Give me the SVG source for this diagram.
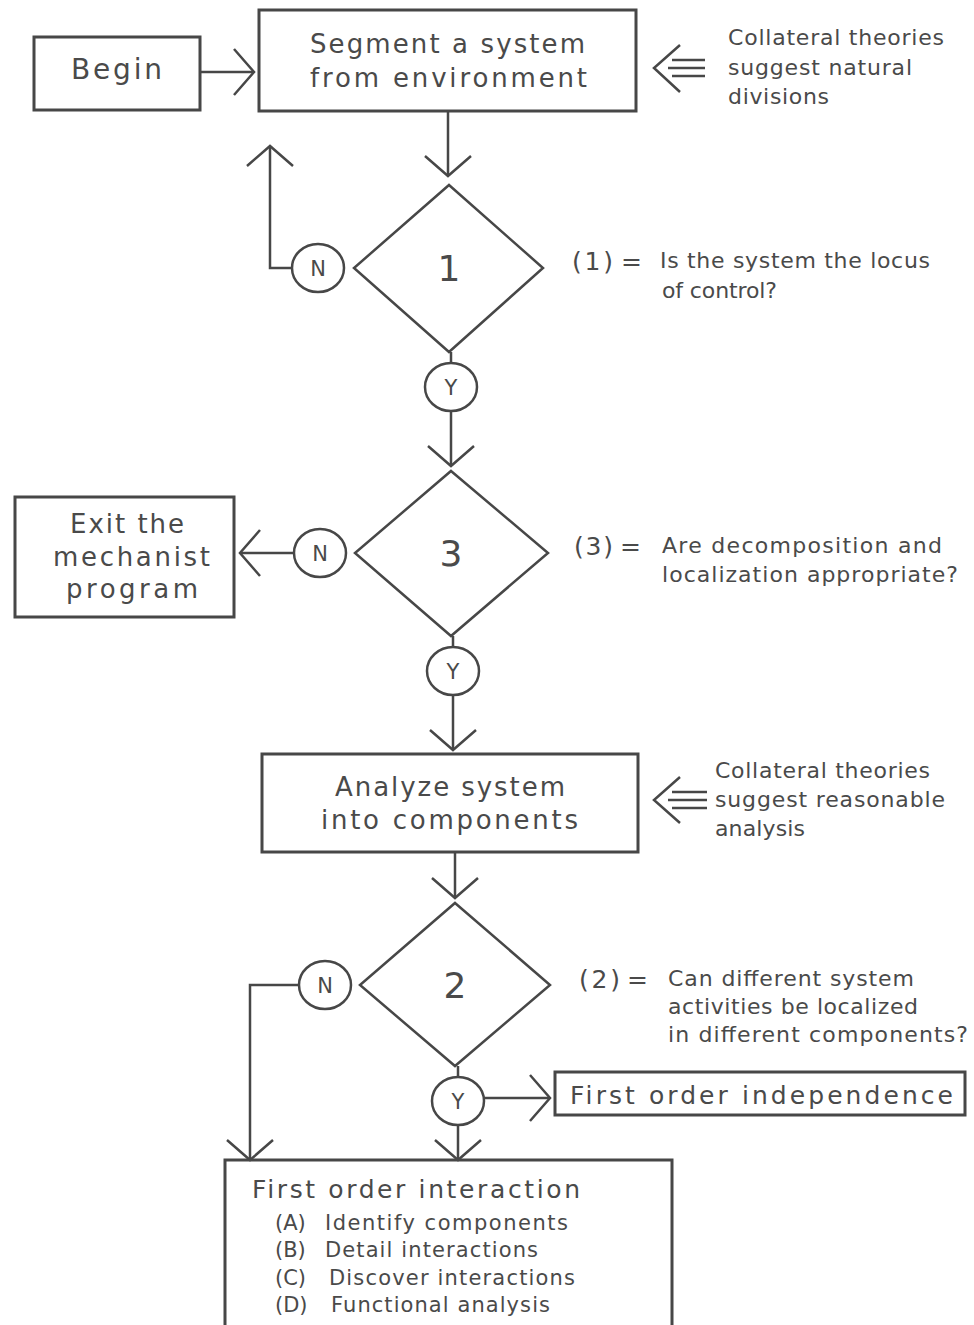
<svg xmlns="http://www.w3.org/2000/svg" width="974" height="1325" viewBox="0 0 974 1325">
<defs>
<style>
.box{fill:none;stroke:#474747;stroke-width:3}
.shape{fill:none;stroke:#474747;stroke-width:2.5}
.ln{fill:none;stroke:#474747;stroke-width:2.5}
.t{font-family:"DejaVu Sans","Open Sans",sans-serif;fill:#4a4a4a}
.big{font-size:26px}
.num{font-size:36px}
.yn{font-size:21px}
.side{font-size:22px}
.eq{font-size:25px}
.item{font-size:21px}
</style>
<marker id="ah" markerUnits="userSpaceOnUse" viewBox="-24 -28 28 56" markerWidth="28" markerHeight="56" refX="0" refY="0" orient="auto" overflow="visible">
<path d="M-20,-23 L0,0 L-20,23" fill="none" stroke="#474747" stroke-width="2.5"/>
</marker>
</defs>
<rect width="974" height="1325" fill="#ffffff"/>

<g id="connectors">
<line class="ln" x1="200" y1="72" x2="254" y2="72" marker-end="url(#ah)"/>
<line class="ln" x1="448" y1="111" x2="448" y2="176" marker-end="url(#ah)"/>
<polyline class="ln" points="292,268 270,268 270,146" marker-end="url(#ah)"/>
<line class="ln" x1="451" y1="352" x2="451" y2="363"/>
<line class="ln" x1="451" y1="411" x2="451" y2="466" marker-end="url(#ah)"/>
<line class="ln" x1="294" y1="553" x2="240" y2="553" marker-end="url(#ah)"/>
<line class="ln" x1="453" y1="636" x2="453" y2="647"/>
<line class="ln" x1="453" y1="695" x2="453" y2="750" marker-end="url(#ah)"/>
<line class="ln" x1="455" y1="852" x2="455" y2="898" marker-end="url(#ah)"/>
<polyline class="ln" points="299,985 250,985 250,1160" marker-end="url(#ah)"/>
<line class="ln" x1="458" y1="1066" x2="458" y2="1077"/>
<line class="ln" x1="458" y1="1125" x2="458" y2="1160" marker-end="url(#ah)"/>
<line class="ln" x1="484" y1="1098" x2="550" y2="1098" marker-end="url(#ah)"/>
<g id="collateral-arrow-1">
<polyline class="ln" points="680,45 654,68 680,92"/>
<line class="ln" x1="672" y1="60" x2="705" y2="60"/>
<line class="ln" x1="668" y1="68" x2="705" y2="68"/>
<line class="ln" x1="672" y1="76" x2="705" y2="76"/>
</g>
<g id="collateral-arrow-2">
<polyline class="ln" points="680,777 654,800 680,823"/>
<line class="ln" x1="672" y1="792" x2="707" y2="792"/>
<line class="ln" x1="668" y1="800" x2="707" y2="800"/>
<line class="ln" x1="672" y1="808" x2="707" y2="808"/>
</g>
</g>

<g id="begin">
<rect class="box" x="34" y="37" width="166" height="73"/>
<text class="t" x="71" y="79" font-size="28" textLength="91" lengthAdjust="spacing">Begin</text>
</g>

<g id="segment">
<rect class="box" x="259" y="10" width="377" height="101"/>
<text class="t big" x="310" y="53" textLength="275" lengthAdjust="spacing">Segment a system</text>
<text class="t big" x="310" y="87" textLength="277" lengthAdjust="spacing">from environment</text>
</g>

<g id="note-natural">
<text class="t side" x="728" y="45" textLength="216" lengthAdjust="spacing">Collateral theories</text>
<text class="t side" x="728" y="75" textLength="184" lengthAdjust="spacing">suggest natural</text>
<text class="t side" x="728" y="104" textLength="101" lengthAdjust="spacing">divisions</text>
</g>

<g id="decision-1">
<polygon class="shape" points="449,185 543,268 449,352 354,268"/>
<text class="t num" x="449" y="281" text-anchor="middle">1</text>
</g>
<g id="n1">
<ellipse class="shape" cx="318" cy="268" rx="26" ry="24"/>
<text class="t yn" x="318" y="276" text-anchor="middle">N</text>
</g>
<g id="q1">
<text class="t eq" x="572" y="270" textLength="41" lengthAdjust="spacing">(1)</text>
<text class="t eq" x="621" y="270">=</text>
<text class="t side" x="660" y="268" textLength="270" lengthAdjust="spacing">Is the system the locus</text>
<text class="t side" x="662" y="298" textLength="115" lengthAdjust="spacing">of control?</text>
</g>
<g id="y1">
<ellipse class="shape" cx="451" cy="387" rx="26" ry="24"/>
<text class="t yn" x="451" y="395" text-anchor="middle">Y</text>
</g>

<g id="decision-3">
<polygon class="shape" points="451,471 548,553 451,636 355,553"/>
<text class="t num" x="451" y="566" text-anchor="middle">3</text>
</g>
<g id="n3">
<ellipse class="shape" cx="320" cy="553" rx="26" ry="24"/>
<text class="t yn" x="320" y="561" text-anchor="middle">N</text>
</g>
<g id="exit">
<rect class="box" x="15" y="497" width="219" height="120"/>
<text class="t big" x="70" y="533" textLength="114" lengthAdjust="spacing">Exit the</text>
<text class="t big" x="53" y="566" textLength="157" lengthAdjust="spacing">mechanist</text>
<text class="t big" x="66" y="598" textLength="132" lengthAdjust="spacing">program</text>
</g>
<g id="q3">
<text class="t eq" x="574" y="555" textLength="39" lengthAdjust="spacing">(3)</text>
<text class="t eq" x="620" y="555">=</text>
<text class="t side" x="662" y="553" textLength="280" lengthAdjust="spacing">Are decomposition and</text>
<text class="t side" x="662" y="582" textLength="296" lengthAdjust="spacing">localization appropriate?</text>
</g>
<g id="y3">
<ellipse class="shape" cx="453" cy="671" rx="26" ry="24"/>
<text class="t yn" x="453" y="679" text-anchor="middle">Y</text>
</g>

<g id="analyze">
<rect class="box" x="262" y="754" width="376" height="98"/>
<text class="t big" x="335" y="796" textLength="230" lengthAdjust="spacing">Analyze system</text>
<text class="t big" x="321" y="829" textLength="257" lengthAdjust="spacing">into components</text>
</g>
<g id="note-analysis">
<text class="t side" x="715" y="778" textLength="215" lengthAdjust="spacing">Collateral theories</text>
<text class="t side" x="715" y="807" textLength="230" lengthAdjust="spacing">suggest reasonable</text>
<text class="t side" x="715" y="836" textLength="90" lengthAdjust="spacing">analysis</text>
</g>

<g id="decision-2">
<polygon class="shape" points="455,903 550,985 455,1066 360,985"/>
<text class="t num" x="455" y="998" text-anchor="middle">2</text>
</g>
<g id="n2">
<ellipse class="shape" cx="325" cy="985" rx="26" ry="24"/>
<text class="t yn" x="325" y="993" text-anchor="middle">N</text>
</g>
<g id="q2">
<text class="t eq" x="579" y="988" textLength="41" lengthAdjust="spacing">(2)</text>
<text class="t eq" x="627" y="988">=</text>
<text class="t side" x="668" y="986" textLength="246" lengthAdjust="spacing">Can different system</text>
<text class="t side" x="668" y="1014" textLength="250" lengthAdjust="spacing">activities be localized</text>
<text class="t side" x="668" y="1042" textLength="300" lengthAdjust="spacing">in different components?</text>
</g>
<g id="y2">
<ellipse class="shape" cx="458" cy="1101" rx="26" ry="24"/>
<text class="t yn" x="458" y="1109" text-anchor="middle">Y</text>
</g>

<g id="independence">
<rect class="box" x="555" y="1072" width="410" height="43"/>
<text class="t" x="570" y="1104" font-size="25" textLength="383" lengthAdjust="spacing">First order independence</text>
</g>

<g id="interaction">
<rect class="box" x="225" y="1160" width="447" height="180"/>
<text class="t" x="252" y="1198" font-size="25" textLength="328" lengthAdjust="spacing">First order interaction</text>
<text class="t item" x="275" y="1230">(A)</text>
<text class="t item" x="325" y="1230" textLength="243" lengthAdjust="spacing">Identify components</text>
<text class="t item" x="275" y="1257">(B)</text>
<text class="t item" x="325" y="1257" textLength="213" lengthAdjust="spacing">Detail interactions</text>
<text class="t item" x="275" y="1285">(C)</text>
<text class="t item" x="329" y="1285" textLength="246" lengthAdjust="spacing">Discover interactions</text>
<text class="t item" x="275" y="1312">(D)</text>
<text class="t item" x="331" y="1312" textLength="219" lengthAdjust="spacing">Functional analysis</text>
</g>
</svg>
